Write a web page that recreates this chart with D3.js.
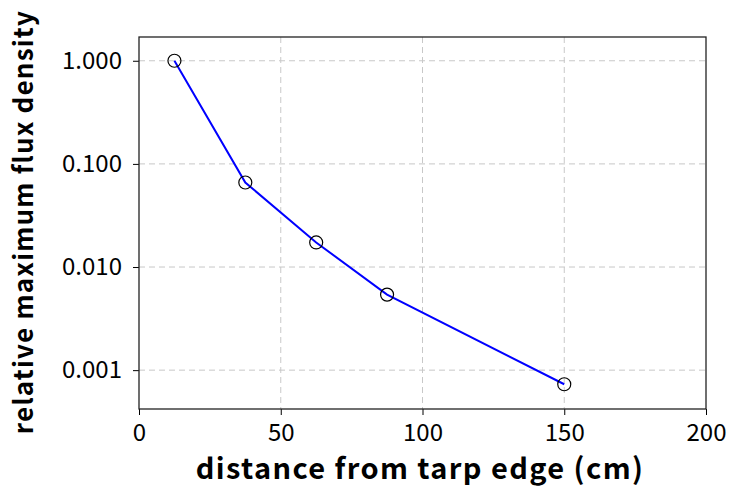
<!DOCTYPE html>
<html>
<head>
<meta charset="utf-8">
<script src="https://cdn.jsdelivr.net/npm/d3@7"></script>
<style>
  body { margin: 0; background: #fff; }
  text { font-family: "Noto Sans CJK JP", sans-serif; }
</style>
</head>
<body>
<svg id="chart" width="729" height="487"></svg>
<script>
// data
var distances = [12.5, 37.5, 62.5, 87.5, 150];
var fluxDensity = [1.0, 0.066, 0.0173, 0.0054, 0.00073];
var xTicks = [0, 50, 100, 150, 200];
var yTicks = [1, 0.1, 0.01, 0.001];

var margin = {left: 139, right: 23, top: 37, bottom: 78};
var width = 729, height = 487;
var fontName = "'Noto Sans CJK JP', sans-serif";

var svg = d3.select("#chart");

var x = d3.scaleLinear().domain([0, 200]).range([margin.left, width - margin.right]);
var y = d3.scaleLog().domain([0.00042, 1.7]).range([height - margin.bottom, margin.top]);

// grid
var grid = svg.append("g");
grid.selectAll("line.vx").data(xTicks.slice(1, 4)).enter().append("line")
  .attr("x1", d => x(d)).attr("x2", d => x(d))
  .attr("y1", margin.top).attr("y2", height - margin.bottom)
  .attr("stroke", "#c8c8c8").attr("stroke-dasharray", "6,4").attr("stroke-width", 1);
grid.selectAll("line.hy").data(yTicks).enter().append("line")
  .attr("x1", margin.left).attr("x2", width - margin.right)
  .attr("y1", d => y(d)).attr("y2", d => y(d))
  .attr("stroke", "#c8c8c8").attr("stroke-dasharray", "6,4").attr("stroke-width", 1);

// axes
var xAxis = svg.append("g")
  .attr("transform", "translate(0," + (height - margin.bottom) + ")")
  .call(d3.axisBottom(x).tickValues(xTicks).tickSize(6).tickPadding(9));
var yAxis = svg.append("g")
  .attr("transform", "translate(" + margin.left + ",0)")
  .call(d3.axisLeft(y).tickValues(yTicks).tickFormat(d3.format(".3f")).tickSize(6).tickPadding(11));

[xAxis, yAxis].forEach(function (a) {
  a.select(".domain").remove();
  a.attr("font-size", null).attr("font-family", null);
  a.selectAll("text").attr("font-size", 24).attr("fill", "#000")
    .style("font-family", fontName);
  a.selectAll(".tick line").attr("stroke", "#000");
});

// frame
svg.append("rect")
  .attr("x", margin.left).attr("y", margin.top)
  .attr("width", width - margin.left - margin.right)
  .attr("height", height - margin.top - margin.bottom)
  .attr("fill", "none").attr("stroke", "#222").attr("stroke-width", 1.3);

// line + markers
var line = d3.line().x((d, i) => x(distances[i])).y(d => y(d));
svg.append("path").datum(fluxDensity)
  .attr("d", line)
  .attr("fill", "none").attr("stroke", "#0000ff").attr("stroke-width", 2);

svg.selectAll("circle.pt").data(fluxDensity).enter().append("circle")
  .attr("cx", (d, i) => x(distances[i])).attr("cy", d => y(d))
  .attr("r", 6.5)
  .attr("fill", "none").attr("stroke", "#000").attr("stroke-width", 1.2);

// labels
svg.append("text")
  .attr("x", 420).attr("y", 479)
  .attr("text-anchor", "middle").attr("font-size", 29).attr("font-weight", "bold")
  .attr("letter-spacing", 1.4)
  .style("font-family", fontName)
  .text("distance from tarp edge (cm)");
svg.append("text")
  .attr("transform", "translate(33,222) rotate(-90)")
  .attr("text-anchor", "middle").attr("font-size", 26).attr("font-weight", "bold")
  .attr("letter-spacing", 1.2)
  .style("font-family", fontName)
  .text("relative maximum flux density");
</script>
</body>
</html>
